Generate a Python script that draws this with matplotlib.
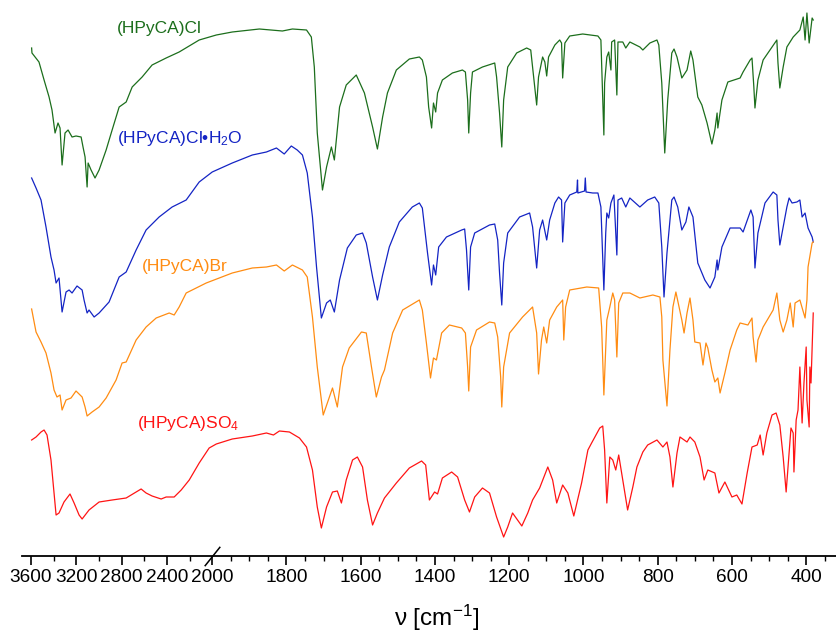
import matplotlib
matplotlib.use("Agg")
import matplotlib.pyplot as plt
import numpy as np

# wavenumbers (cm-1) and offset transmittance (arb. units)
cl_nu = [3595, 3592, 3530, 3485, 3441, 3415, 3388, 3362, 3344, 3326, 3300, 3273, 3238, 3203, 3158,
         3141, 3123, 3105, 3096, 3070, 3035, 2999, 2937, 2884, 2822, 2760, 2707, 2619, 2531, 2407,
         2292, 2115, 1989, 1946, 1873, 1811, 1784, 1746, 1733, 1725, 1717, 1703, 1692, 1679, 1671,
         1657, 1639, 1612, 1590, 1568, 1555, 1541, 1528, 1504, 1469, 1442, 1434, 1423, 1417, 1409,
         1404, 1398, 1393, 1380, 1353, 1326, 1318, 1312, 1309, 1304, 1299, 1272, 1239, 1234, 1226,
         1220, 1215, 1204, 1180, 1153, 1142, 1137, 1126, 1121, 1110, 1104, 1099, 1094, 1077, 1064,
         1059, 1056, 1050, 1037, 1002, 961, 953, 948, 945, 943, 937, 932, 926, 924, 916, 910, 907,
         894, 886, 875, 848, 840, 821, 802, 797, 789, 781, 773, 762, 756, 748, 735, 721, 711, 705,
         692, 681, 667, 654, 646, 640, 638, 627, 611, 578, 570, 551, 546, 541, 538, 530, 516, 492,
         479, 476, 471, 462, 452, 435, 417, 408, 403, 398, 392, 384, 381]
cl_t = [508, 503, 494, 476, 459, 446, 423, 433, 428, 391, 423, 426, 419, 420, 419,
        409, 399, 369, 393, 386, 378, 386, 406, 426, 449, 454, 469, 479, 491, 498,
        504, 516, 521, 524, 527, 525, 527, 526, 519, 489, 423, 366, 389, 409, 396,
        449, 471, 481, 463, 429, 407, 439, 463, 486, 497, 499, 496, 479, 449, 428,
        453, 444, 463, 476, 483, 486, 484, 456, 423, 463, 484, 489, 493, 479, 443,
        409, 456, 489, 503, 508, 506, 489, 451, 479, 499, 494, 480, 499, 511, 516,
        513, 478, 513, 520, 522, 520, 516, 456, 421, 473, 499, 504, 486, 514, 516, 461, 514,
        514, 508, 514, 509, 506, 513, 516, 511, 473, 403, 456, 503, 507, 499, 478, 486, 505, 496,
        459, 451, 433, 412, 426, 443, 428, 456, 474, 478, 484, 496, 498, 469, 448, 476, 496, 509,
        516, 493, 468, 489, 509, 519, 526, 539, 516, 543, 513, 538, 536]

h2o_nu = [3595, 3556, 3512, 3468, 3424, 3397, 3379, 3353, 3326, 3291, 3264, 3238, 3194, 3149, 3132,
          3105, 3088, 3043, 2999, 2911, 2822, 2760, 2672, 2584, 2469, 2354, 2230, 2115, 2000, 1946,
          1892, 1854, 1827, 1806, 1787, 1771, 1757, 1744, 1730, 1719, 1706, 1692, 1682, 1671, 1657,
          1636, 1612, 1595, 1585, 1568, 1555, 1541, 1523, 1496, 1461, 1442, 1434, 1420, 1409, 1404,
          1398, 1390, 1369, 1328, 1320, 1315, 1309, 1304, 1293, 1253, 1239, 1231, 1226, 1220, 1215,
          1204, 1172, 1145, 1137, 1126, 1118, 1110, 1099, 1091, 1077, 1067, 1059, 1056, 1050, 1037,
          1018, 1016, 1015, 997, 995, 993, 975, 961, 953, 948, 945, 940, 937, 932, 926, 918, 910,
          907, 897, 886, 875, 848, 827, 808, 797, 789, 783, 775, 762, 756, 746, 735, 724, 716, 705,
          692, 681, 673, 659, 646, 640, 638, 627, 605, 578, 570, 549, 543, 538, 530, 511, 489, 479,
          476, 471, 462, 452, 446, 438, 425, 417, 411, 403, 395, 384, 381]
h2o_t = [378, 368, 356, 329, 299, 286, 273, 278, 244, 264, 266, 263, 270, 266, 256,
         243, 246, 239, 243, 254, 279, 284, 306, 326, 339, 349, 356, 374, 384, 393,
         401, 404, 408, 402, 410, 406, 401, 383, 339, 289, 238, 253, 256, 244, 276,
         308, 321, 323, 313, 279, 256, 281, 309, 334, 349, 353, 348, 303, 271, 291,
         281, 309, 319, 326, 327, 306, 266, 309, 323, 331, 332, 316, 283, 251, 293,
         323, 339, 343, 329, 288, 326, 336, 316, 336, 353, 359, 356, 314, 353, 361,
         364, 376, 363, 365, 378, 364, 363, 363, 349, 296, 266, 323, 343, 338, 353, 361, 301,
         356, 358, 349, 358, 349, 356, 359, 353, 309, 259, 303, 356, 359, 349, 326, 334, 349, 339,
         293, 283, 276, 268, 279, 296, 286, 309, 328, 328, 324, 346, 339, 288, 323, 353, 364, 361,
         336, 311, 329, 349, 358, 353, 354, 356, 339, 343, 328, 319, 314]

br_nu = [3595, 3556, 3512, 3468, 3424, 3397, 3371, 3344, 3326, 3291, 3247, 3203, 3149, 3123, 3105,
         3061, 2999, 2937, 2849, 2796, 2760, 2672, 2584, 2495, 2380, 2336, 2292, 2230, 2053, 1946,
         1892, 1854, 1827, 1806, 1784, 1757, 1744, 1730, 1717, 1701, 1676, 1663, 1649, 1631, 1598,
         1585, 1571, 1558, 1544, 1536, 1514, 1487, 1442, 1434, 1423, 1412, 1404, 1396, 1382, 1361,
         1328, 1318, 1312, 1309, 1304, 1288, 1253, 1239, 1231, 1223, 1220, 1215, 1199, 1164, 1137,
         1126, 1121, 1113, 1107, 1099, 1091, 1072, 1056, 1053, 1048, 1037, 991, 959, 951, 945, 937,
         929, 921, 916, 910, 905, 894, 875, 848, 813, 794, 789, 786, 775, 767, 759, 751, 735, 729,
         721, 713, 705, 700, 686, 678, 670, 665, 654, 646, 638, 632, 619, 605, 587, 578, 557, 546,
         543, 535, 530, 516, 489, 479, 471, 462, 452, 443, 435, 430, 417, 403, 398, 395, 384, 381]
br_t = [247, 224, 214, 203, 183, 166, 159, 161, 146, 156, 158, 165, 159, 149, 140,
        144, 149, 158, 176, 193, 194, 216, 229, 238, 243, 241, 249, 263, 273, 283,
        288, 289, 291, 285, 291, 286, 279, 239, 189, 141, 168, 149, 189, 208, 224,
        223, 189, 159, 179, 186, 223, 246, 256, 246, 213, 178, 198, 196, 223, 231,
        228, 223, 189, 165, 209, 226, 234, 233, 219, 179, 149, 189, 223, 239, 249,
        223, 182, 216, 229, 213, 236, 249, 256, 216, 249, 266, 269, 268, 229, 161, 236,
        249, 263, 256, 199, 253, 263, 263, 258, 261, 259, 239, 196, 150, 206, 249, 264, 236, 223,
        243, 258, 236, 214, 213, 191, 213, 208, 186, 174, 178, 163, 183, 206, 226, 233, 231, 238,
        219, 194, 216, 229, 246, 263, 236, 224, 236, 253, 229, 253, 256, 238, 256, 289, 313, 314]

so4_nu = [3595, 3556, 3512, 3485, 3459, 3424, 3397, 3379, 3353, 3309, 3256, 3220, 3176, 3149, 3088,
          2999, 2884, 2760, 2672, 2628, 2584, 2531, 2451, 2407, 2336, 2274, 2203, 2115, 2027, 1989,
          1946, 1892, 1854, 1835, 1819, 1792, 1765, 1746, 1730, 1717, 1706, 1692, 1676, 1663, 1652,
          1639, 1622, 1609, 1595, 1582, 1568, 1555, 1536, 1504, 1469, 1436, 1425, 1415, 1401, 1393,
          1380, 1355, 1339, 1320, 1307, 1293, 1272, 1253, 1234, 1215, 1204, 1191, 1166, 1150, 1137,
          1118, 1096, 1083, 1072, 1056, 1042, 1026, 1005, 988, 978, 956, 948, 943, 937, 929, 921,
          913, 905, 894, 881, 867, 856, 840, 827, 802, 786, 775, 767, 759, 748, 740, 721, 713, 700,
          686, 675, 665, 646, 635, 619, 600, 587, 573, 559, 546, 532, 524, 516, 506, 492, 481, 471,
          462, 454, 449, 441, 435, 433, 427, 422, 417, 411, 406, 400, 398, 392, 390, 387, 381]
so4_t = [116, 119, 124, 126, 121, 96, 63, 41, 43, 54, 62, 53, 41, 37, 46,
         54, 56, 58, 64, 67, 63, 60, 57, 59, 59, 66, 76, 93, 108, 112,
         117, 120, 123, 121, 125, 124, 118, 109, 86, 49, 28, 49, 64, 65, 53,
         76, 96, 99, 89, 56, 31, 43, 58, 73, 88, 95, 91, 56, 64, 62,
         78, 84, 79, 56, 44, 59, 68, 63, 39, 19, 29, 43, 30, 43, 56,
         68, 89, 76, 53, 71, 63, 40, 73, 106, 113, 128, 130, 106, 53, 99, 96,
         86, 101, 76, 46, 69, 89, 104, 111, 116, 109, 114, 99, 69, 103, 119, 114, 119, 114,
         99, 76, 86, 83, 63, 74, 59, 61, 52, 83, 109, 111, 121, 101, 123, 141, 143, 131,
         99, 64, 89, 128, 123, 84, 136, 146, 189, 133, 173, 209, 156, 129, 189, 173, 243]

labels = ["(HPyCA)Cl", "(HPyCA)Cl\u2022H$_2$O", "(HPyCA)Br", "(HPyCA)SO$_4$"]
colors = ["#1c6e1c", "#1424c4", "#ff8c12", "#ff1414"]
label_pos = [(2840, 523), (2840, 413), (2619, 285), (2663, 128)]

major_ticks = [3600, 3200, 2800, 2400, 2000, 1800, 1600, 1400, 1200, 1000, 800, 600, 400]
minor_ticks = [3400, 3000, 2600, 2200] + list(range(1950, 349, -50))

BREAK = 2000
R = 0.305  # compression of the high-wavenumber part


def fwd(v):
    v = np.asarray(v, dtype=float)
    return np.where(v > BREAK, BREAK + (v - BREAK) * R, v)


def inv(u):
    u = np.asarray(u, dtype=float)
    return np.where(u > BREAK, BREAK + (u - BREAK) / R, u)


plt.rcParams["font.family"] = ["Liberation Sans", "DejaVu Sans"]
plt.rcParams["mathtext.fontset"] = "custom"
plt.rcParams["mathtext.rm"] = "Liberation Sans"
plt.rcParams["mathtext.it"] = "Liberation Sans"

W, H = 837, 634
fig = plt.figure(figsize=(W / 100, H / 100), dpi=100)
ax = fig.add_axes([22 / W, 78 / H, 815 / W, 556 / H])

series = [(cl_nu, cl_t), (h2o_nu, h2o_t), (br_nu, br_t), (so4_nu, so4_t)]
for (nu, t), c, lab, (lx, ly) in zip(series, colors, labels, label_pos):
    ax.plot(nu, t, color=c, lw=0.9)
    ax.text(lx, ly, lab, color=c, fontsize=12.5, ha="left", va="baseline")

ax.set_xscale("function", functions=(fwd, inv))
ax.set_xlim(3680, 317)
ax.set_ylim(0, 556)
ax.set_xticks(major_ticks)
ax.set_xticklabels([str(v) for v in major_ticks])
ax.set_xticks(minor_ticks, minor=True)
ax.set_yticks([])
for s in ["top", "left", "right"]:
    ax.spines[s].set_visible(False)
ax.spines["bottom"].set_linewidth(1.3)
ax.tick_params(axis="x", which="major", direction="out", length=6.5, width=1.2, labelsize=13.7, pad=3)
ax.tick_params(axis="x", which="minor", direction="out", length=3.3, width=1.0)

# axis break mark
ax.plot([BREAK], [0], marker=[(-0.8, -1.0), (0.8, 1.0)], markersize=14, color="black",
        mew=1.1, clip_on=False)

fig.text(437 / W, 1 - 618 / H, r"ν [cm$^{\mathrm{-1}}$]", ha="center", va="center", fontsize=17.5)

fig.savefig("out.png", dpi=100)
